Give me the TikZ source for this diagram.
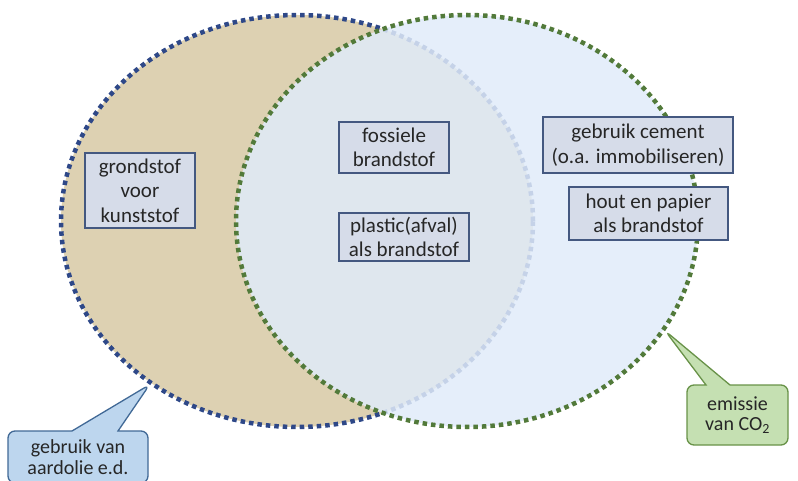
\documentclass[tikz,border=0pt]{standalone}
\usepackage{fontspec}
\setmainfont{Carlito}
\usepackage{tikz}
\usetikzlibrary{shapes,shapes.geometric,shapes.callouts,positioning}

\definecolor{oliebruin}{RGB}{221,209,178}
\definecolor{olieblauw}{RGB}{46,72,136}
\definecolor{co2groen}{RGB}{82,122,58}
\definecolor{co2blauw}{RGB}{224,235,249}
\definecolor{vakvul}{RGB}{214,220,233}
\definecolor{vakrand}{RGB}{68,88,128}
\definecolor{ballonblauw}{RGB}{189,214,238}
\definecolor{ballonrandb}{RGB}{65,105,150}
\definecolor{ballongroen}{RGB}{197,224,178}
\definecolor{ballonrandg}{RGB}{104,146,72}

\tikzset{
  stippel/.style={ellipse, inner sep=0pt, line width=4.5pt, dash pattern=on 4.5pt off 4pt},
  vak/.style={draw=vakrand, fill=vakvul, line width=1.2pt, align=center, inner sep=0pt,
    text=black!85, font=\fontsize{21}{24.5}\selectfont},
  ballon/.style={rectangle callout, rounded corners=7pt, line width=1.3pt, align=center,
    inner sep=0pt, text=black!85, font=\fontsize{20}{20.5}\selectfont},
}

\begin{document}
\begin{tikzpicture}[x=1pt,y=-1pt]
\useasboundingbox (0,0) rectangle (798,481);

% de twee cirkels
\node[stippel, draw=olieblauw, fill=oliebruin, minimum width=472pt, minimum height=412pt] (aardolie) at (297,221) {};
\node[stippel, draw=co2groen, fill=co2blauw, fill opacity=.85, minimum width=462pt, minimum height=412pt] (emissie) at (467,221) {};

% vakjes
\node[vak, minimum width=110pt, minimum height=75pt] (grondstof) at (140,190.5) {grondstof\\voor\\kunststof};
\node[vak, minimum width=110pt, minimum height=51pt] (fossiel) at (394,147.5) {fossiele\\brandstof};
\node[vak, minimum width=130pt, minimum height=48pt] (plastic) at (404,237) {plastic(afval)\\als brandstof};
\node[vak, minimum width=190pt, minimum height=56pt] (cement) at (638,145) {gebruik cement\\(o.a. immobiliseren)};
\node[vak, minimum width=159pt, minimum height=53pt] (hout) at (648.5,213.5) {hout en papier\\als brandstof};

% ballonnen
\node[ballon, draw=ballonrandb, fill=ballonblauw, minimum width=140pt, minimum height=52pt,
  callout absolute pointer={(aardolie.228)}, callout pointer width=46pt] (ballonolie) at (78,457) {gebruik van\\aardolie e.d.};
\node[ballon, draw=ballonrandg, fill=ballongroen, minimum width=101pt, minimum height=60pt,
  callout absolute pointer={(emissie.331)}, callout pointer width=24pt] (ballonco2) at (737.5,415) {emissie\\van CO\textsubscript{2}};

\end{tikzpicture}
\end{document}
